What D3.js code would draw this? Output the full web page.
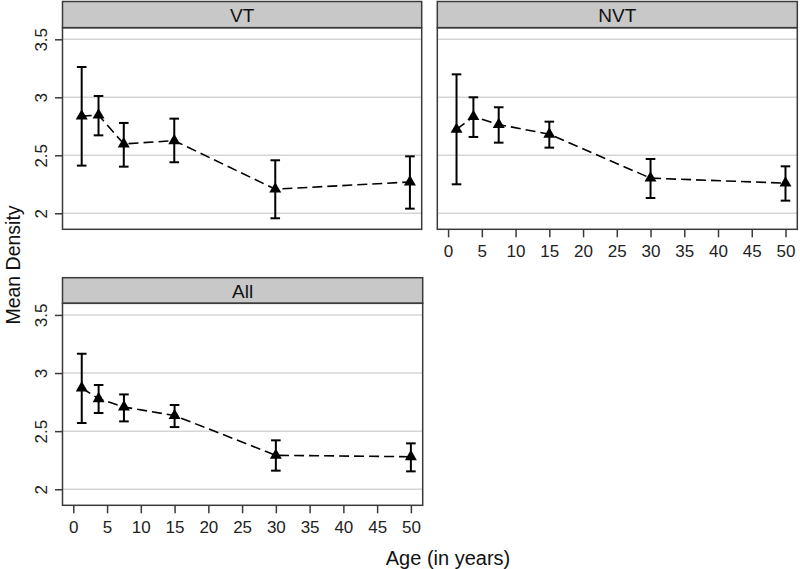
<!DOCTYPE html>
<html>
<head>
<meta charset="utf-8">
<script src="https://cdn.jsdelivr.net/npm/d3@7"></script>
<style>
  html, body { margin: 0; padding: 0; background: #fff; }
  svg { display: block; font-family: "Liberation Sans", Arial, sans-serif; }
</style>
</head>
<body>
<svg id="chart" width="800" height="569"></svg>
<script>
// ---- data ----
const ages = [1.25, 3.75, 7.5, 15, 30, 50];
const panelNames = ["VT", "NVT", "All"];
const vtMean = [2.838, 2.847, 2.598, 2.626, 2.208, 2.270];
const vtLow  = [2.411, 2.672, 2.402, 2.440, 1.957, 2.040];
const vtHigh = [3.261, 3.011, 2.779, 2.816, 2.457, 2.491];
const nvtMean = [2.724, 2.833, 2.765, 2.682, 2.303, 2.260];
const nvtLow  = [2.250, 2.658, 2.609, 2.566, 2.132, 2.109];
const nvtHigh = [3.198, 3.000, 2.914, 2.790, 2.468, 2.405];
const allMean = [2.871, 2.779, 2.708, 2.634, 2.292, 2.280];
const allLow  = [2.570, 2.656, 2.584, 2.535, 2.160, 2.154];
const allHigh = [3.166, 2.897, 2.816, 2.725, 2.421, 2.395];
const xTicks = [0, 5, 10, 15, 20, 25, 30, 35, 40, 45, 50];
const yTicks = [2, 2.5, 3, 3.5];
const xTitle = "Age (in years)";
const yTitle = "Mean Density";

// ---- layout ----
const svg = d3.select("#chart");
const frameColor = "#3a3a3a";
const gridColor = "#d6d6d6";
const stripFill = "#c8c8c8";

const panels = [
  { name: panelNames[0], mean: vtMean, low: vtLow, high: vtHigh,
    x0: 62.5, x1: 421.7, sTop: 1.5, top: 27.7, bottom: 229.3, yAxis: true, xAxis: false },
  { name: panelNames[1], mean: nvtMean, low: nvtLow, high: nvtHigh,
    x0: 437.3, x1: 797.3, sTop: 1.5, top: 27.7, bottom: 229.3, yAxis: false, xAxis: true },
  { name: panelNames[2], mean: allMean, low: allLow, high: allHigh,
    x0: 62.5, x1: 422.7, sTop: 277.7, top: 303.3, bottom: 505.3, yAxis: true, xAxis: true }
];

const xDomain = [-1.6, 51.75];
const yDomain = [1.862, 3.6];

panels.forEach(p => {
  const x = d3.scaleLinear().domain(xDomain).range([p.x0, p.x1]);
  const y = d3.scaleLinear().domain(yDomain).range([p.bottom, p.top]);
  const g = svg.append("g");

  // strip
  g.append("rect")
    .attr("x", p.x0).attr("y", p.sTop)
    .attr("width", p.x1 - p.x0).attr("height", p.top - p.sTop)
    .attr("fill", stripFill).attr("stroke", frameColor).attr("stroke-width", 1.5);
  g.append("text")
    .attr("x", (p.x0 + p.x1) / 2).attr("y", (p.sTop + p.top) / 2 + 0.5)
    .attr("text-anchor", "middle").attr("dominant-baseline", "central")
    .attr("font-size", 19).attr("fill", "#111")
    .text(p.name);

  // grid
  g.selectAll("line.grid").data(yTicks).enter().append("line")
    .attr("class", "grid")
    .attr("x1", p.x0).attr("x2", p.x1)
    .attr("y1", d => y(d)).attr("y2", d => y(d))
    .attr("stroke", gridColor).attr("stroke-width", 1.5);

  // axes
  if (p.yAxis) {
    const ya = g.append("g").attr("transform", `translate(${p.x0},0)`)
      .call(d3.axisLeft(y).tickValues(yTicks).tickSize(7.5).tickPadding(7).tickFormat(d3.format("")));
    ya.attr("font-size", 17).attr("font-family", null);
    ya.select(".domain").remove();
    ya.selectAll(".tick line").attr("stroke", frameColor).attr("stroke-width", 1.5);
    ya.selectAll(".tick text")
      .attr("fill", "#222")
      .attr("text-anchor", "middle").attr("dy", null)
      .attr("dominant-baseline", "central")
      .attr("x", null)
      .attr("transform", "translate(-21,0) rotate(-90)");
  }
  if (p.xAxis) {
    const xa = g.append("g").attr("transform", `translate(0,${p.bottom})`)
      .call(d3.axisBottom(x).tickValues(xTicks).tickSize(8).tickPadding(6).tickFormat(d3.format("d")));
    xa.attr("font-size", 17).attr("font-family", null);
    xa.select(".domain").remove();
    xa.selectAll(".tick line").attr("stroke", frameColor).attr("stroke-width", 1.5);
    xa.selectAll(".tick text")
      .attr("fill", "#222")
      .attr("dy", null).attr("y", 22).attr("dominant-baseline", "central");
  }

  // frame
  g.append("rect")
    .attr("x", p.x0).attr("y", p.top)
    .attr("width", p.x1 - p.x0).attr("height", p.bottom - p.top)
    .attr("fill", "none").attr("stroke", frameColor).attr("stroke-width", 1.5);

  // dashed line
  const line = d3.line().x((d, i) => x(ages[i])).y(d => y(d));
  g.append("path").datum(p.mean)
    .attr("d", line).attr("fill", "none")
    .attr("stroke", "#000").attr("stroke-width", 1.6)
    .attr("stroke-dasharray", "10,5");

  // error bars
  const capW = 4.8;
  ages.forEach((a, i) => {
    const cx = x(a);
    g.append("line").attr("x1", cx).attr("x2", cx)
      .attr("y1", y(p.low[i])).attr("y2", y(p.high[i]))
      .attr("stroke", "#000").attr("stroke-width", 2);
    [p.low[i], p.high[i]].forEach(v => {
      g.append("line").attr("x1", cx - capW).attr("x2", cx + capW)
        .attr("y1", y(v)).attr("y2", y(v))
        .attr("stroke", "#000").attr("stroke-width", 2);
    });
  });

  // triangles
  const tri = d3.symbol().type(d3.symbolTriangle).size(62);
  g.selectAll("path.pt").data(p.mean).enter().append("path")
    .attr("class", "pt")
    .attr("d", tri)
    .attr("transform", (d, i) => `translate(${x(ages[i])},${y(d)})`)
    .attr("fill", "#000");
});

// axis titles
svg.append("text")
  .attr("transform", "translate(13,265) rotate(-90)")
  .attr("text-anchor", "middle").attr("dominant-baseline", "central")
  .attr("font-size", 19.5).attr("fill", "#111")
  .text(yTitle);
svg.append("text")
  .attr("x", 448).attr("y", 558)
  .attr("text-anchor", "middle").attr("dominant-baseline", "central")
  .attr("font-size", 20).attr("fill", "#111")
  .text(xTitle);
</script>
</body>
</html>
